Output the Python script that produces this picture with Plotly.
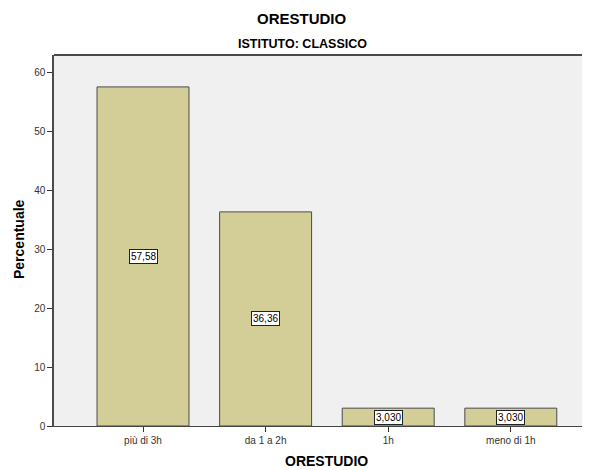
import plotly.graph_objects as go

categories = ["più di 3h", "da 1 a 2h", "1h", "meno di 1h"]
values = [57.58, 36.36, 3.030, 3.030]
labels = ["57,58", "36,36", "3,030", "3,030"]
y_ticks = [0, 10, 20, 30, 40, 50, 60]

FONT = "Liberation Sans, Arial, sans-serif"

fig = go.Figure()
fig.add_trace(go.Bar(
    x=list(range(len(categories))), y=values, width=0.75,
    marker=dict(color="#d3ce97", line=dict(color="#4a4a4a", width=1)),
    hoverinfo="skip",
))

annots = []
for i, (v, lab) in enumerate(zip(values, labels)):
    annots.append(dict(x=i, y=v / 2, xref="x", yref="y", text=lab, showarrow=False,
                       font=dict(family=FONT, size=10, color="#000000"),
                       bgcolor="white", bordercolor="#222222", borderwidth=1, borderpad=1))

annots += [
    dict(text="<b>ORESTUDIO</b>", xref="paper", yref="paper", x=0.4627, y=1, yshift=37,
         showarrow=False, font=dict(family=FONT, size=15, color="#000000"),
         xanchor="center", yanchor="middle"),
    dict(text="<b>ISTITUTO: CLASSICO</b>", xref="paper", yref="paper", x=0.4627, y=1, yshift=11,
         showarrow=False, font=dict(family=FONT, size=12.5, color="#000000"),
         xanchor="center", yanchor="middle"),
    dict(text="<b>ORESTUDIO</b>", xref="paper", yref="paper", x=0.5075, y=0, yshift=-35,
         showarrow=False, font=dict(family=FONT, size=14, color="#000000"),
         xanchor="center", yanchor="middle"),
    dict(text="<b>Percentuale</b>", xref="paper", yref="paper", x=-0.0653, y=0.504,
         textangle=-90, showarrow=False, font=dict(family=FONT, size=14, color="#000000"),
         xanchor="center", yanchor="middle"),
]

fig.update_layout(
    width=582, height=462,
    margin=dict(l=46, r=0, t=47, b=44, autoexpand=False),
    paper_bgcolor="white", plot_bgcolor="#f0f0f0",
    showlegend=False,
    font=dict(family=FONT, size=10, color="#333333"),
    annotations=annots,
    xaxis=dict(
        tickmode="array", tickvals=list(range(len(categories))), ticktext=categories,
        range=[-0.726, 3.646], showgrid=False, zeroline=False, automargin=False,
        ticks="outside", ticklen=5, tickcolor="#333333", tickfont=dict(size=10, color="#333333"),
        showline=True, linecolor="#444444", linewidth=1,
    ),
    yaxis=dict(
        range=[0, 63.0], tickvals=y_ticks, showgrid=False, zeroline=False, automargin=False,
        ticks="outside", ticklen=5, tickcolor="#333333", tickfont=dict(size=10, color="#333333"),
        showline=True, linecolor="#4a4a4a", linewidth=1.5,
    ),
)

# top frame line of the plot area
fig.add_shape(type="line", xref="paper", yref="paper", x0=0, x1=1, y0=1, y1=1,
              line=dict(color="#4a4a4a", width=2))

fig.write_html("out.html")
